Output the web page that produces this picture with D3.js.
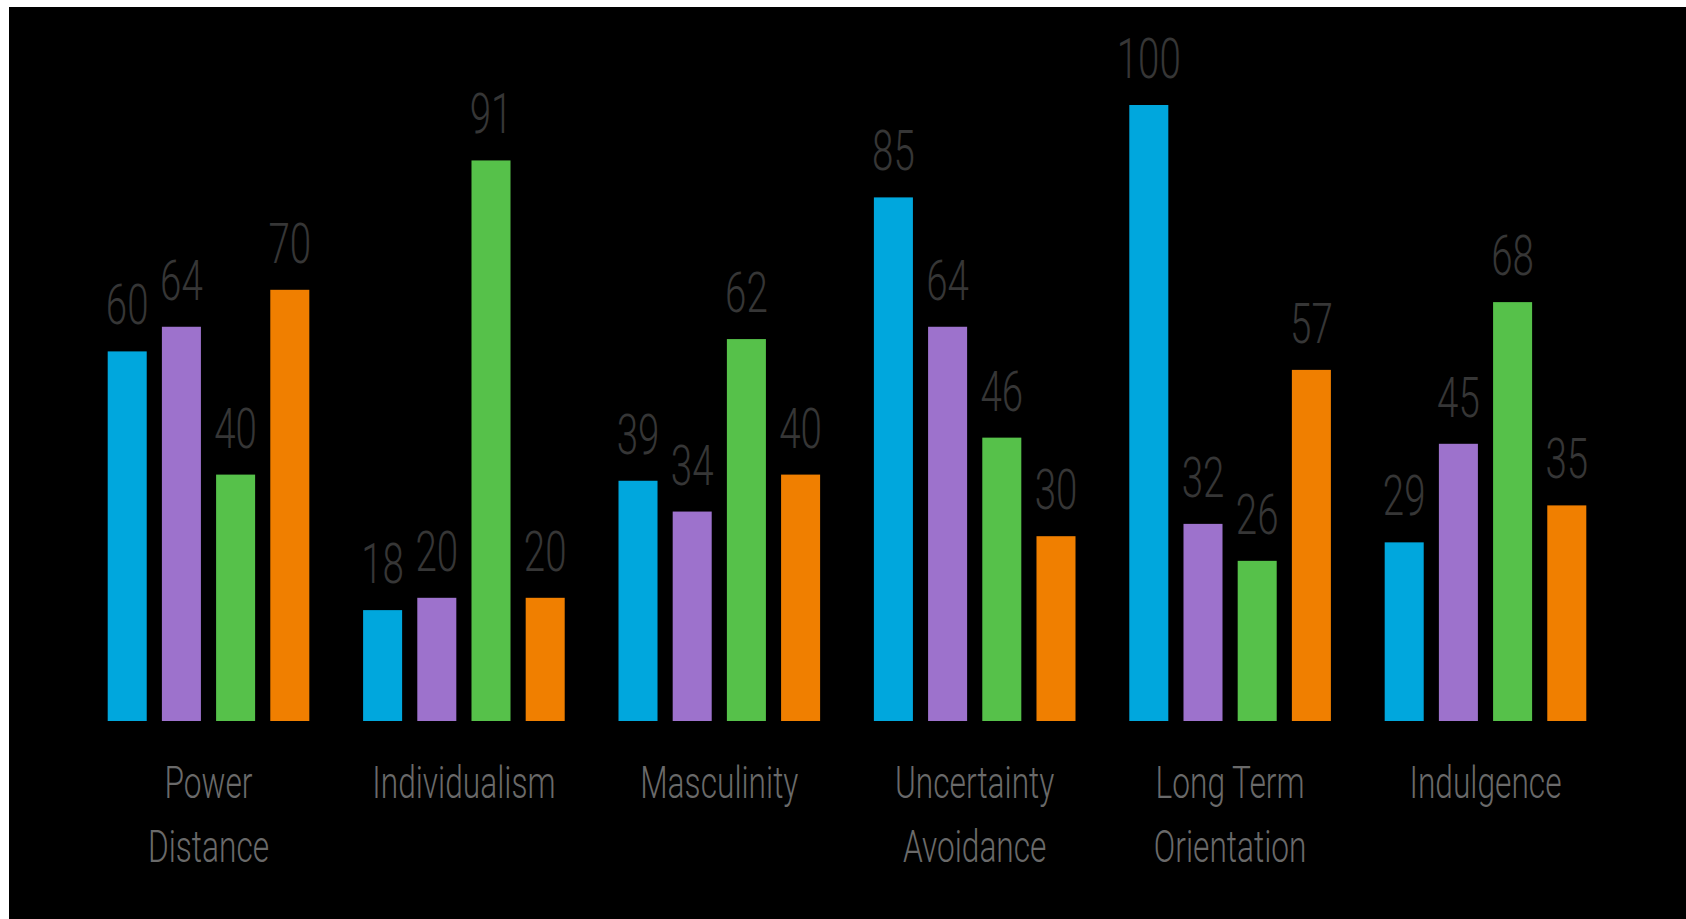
<!DOCTYPE html>
<html>
<head>
<meta charset="utf-8">
<script src="https://cdn.jsdelivr.net/npm/d3@7"></script>
<style>
  html, body { margin: 0; padding: 0; background: #ffffff; }
  svg { display: block; }
</style>
</head>
<body>
<script>
// ---- data ----
const categories = ["Power Distance", "Individualism", "Masculinity", "Uncertainty Avoidance", "Long Term Orientation", "Indulgence"];
const categoryLines = [["Power", "Distance"], ["Individualism"], ["Masculinity"], ["Uncertainty", "Avoidance"], ["Long Term", "Orientation"], ["Indulgence"]];
const seriesNames = ["South Korea", "Thailand", "United States", "Vietnam"];
const southKorea = [60, 18, 39, 85, 100, 29];
const thailand   = [64, 20, 34, 64, 32, 45];
const usa        = [40, 91, 62, 46, 26, 68];
const vietnam    = [70, 20, 40, 30, 57, 35];
const seriesValues = [southKorea, thailand, usa, vietnam];
const seriesColors = ["#00a7dd", "#9d72cc", "#56c14a", "#f07f00"];

const W = 1686, H = 919;
const svg = d3.select("body").append("svg").attr("width", W).attr("height", H);

svg.append("rect").attr("x", 9).attr("y", 7).attr("width", W - 9).attr("height", H - 7).attr("fill", "#000");

const x0 = d3.scaleBand().domain(categories).range([107.7, 1586.3]).paddingInner(0.2106).paddingOuter(0);
const x1 = d3.scaleBand().domain(seriesNames).range([0, x0.bandwidth()]).paddingInner(0.28).paddingOuter(0);
const y = d3.scaleLinear().domain([0, 100]).range([721, 105]);

const rows = [];
categories.forEach((c, i) => {
  seriesNames.forEach((s, j) => {
    rows.push({cat: c, series: s, value: seriesValues[j][i], color: seriesColors[j]});
  });
});

const g = svg.append("g");
g.selectAll("rect.bar").data(rows).join("rect")
  .attr("class", "bar")
  .attr("x", d => x0(d.cat) + x1(d.series))
  .attr("y", d => y(d.value))
  .attr("width", x1.bandwidth())
  .attr("height", d => y(0) - y(d.value))
  .attr("fill", d => d.color);

const VSX = 0.7;
g.selectAll("text.val").data(rows).join("text")
  .attr("class", "val")
  .attr("transform", d => `translate(${x0(d.cat) + x1(d.series) + x1.bandwidth() / 2},${y(d.value) - 27}) scale(${VSX},1)`)
  .attr("text-anchor", "middle")
  .attr("font-family", "Roboto, 'DejaVu Sans', sans-serif")
  .attr("font-weight", 300)
  .attr("font-size", 55)
  .attr("fill", "#363636")
  .text(d => d.value);

const CSX = 0.72;
const catG = svg.append("g").selectAll("text.cat").data(categories).join("text")
  .attr("class", "cat")
  .attr("transform", d => `translate(${x0(d) + x0.bandwidth() / 2},798) scale(${CSX},1)`)
  .attr("text-anchor", "middle")
  .attr("font-family", "Roboto, 'DejaVu Sans', sans-serif")
  .attr("font-weight", 300)
  .attr("font-size", 44)
  .attr("fill", "#6a6a6a");
catG.each(function(d, i) {
  d3.select(this).selectAll("tspan").data(categoryLines[i]).join("tspan")
    .attr("x", 0)
    .attr("dy", (t, k) => k === 0 ? 0 : 64)
    .text(t => t);
});
</script>
</body>
</html>
